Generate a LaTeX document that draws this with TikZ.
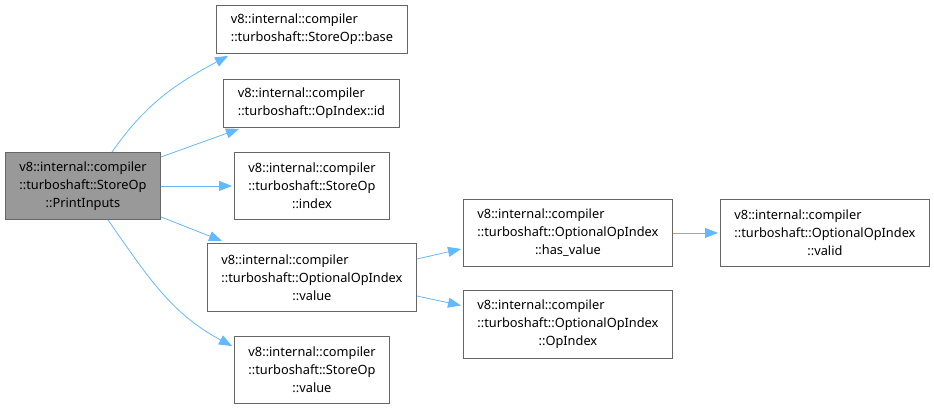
\documentclass[tikz,border=0pt]{standalone}
\usepackage{xcolor}
\usepackage{calc}
\usepackage{fontspec}
\setmainfont{Noto Sans}
\usetikzlibrary{arrows.meta}

\definecolor{callblue}{HTML}{63B8FF}
% first line left-aligned with the second one
\newcommand{\leftpair}[2]{\makebox[\widthof{#2}][l]{#1}\\#2}

\begin{document}
\begin{tikzpicture}[
    x=1pt, y=1pt,
    fn/.style={rectangle, draw=black!60, fill=white, line width=0.9pt, align=center, anchor=north west, inner sep=0pt, font=\fontsize{12.8}{18}\selectfont},
    current/.style={fn, fill=black!40},
    call/.style={-{Triangle[length=13pt, width=10pt]}, draw=callblue, line width=0.8pt}
]
\useasboundingbox (0,0) rectangle (934,-409);

\node[current, minimum width=155pt, minimum height=67pt] (printinputs) at (5,-152) {\leftpair{v8::internal::compiler}{::turboshaft::StoreOp}\\::PrintInputs};
\node[fn, minimum width=191pt, minimum height=48pt] (base) at (216,-5) {\leftpair{v8::internal::compiler}{::turboshaft::StoreOp::base}};
\node[fn, minimum width=176pt, minimum height=48pt] (opid) at (223,-79) {\leftpair{v8::internal::compiler}{::turboshaft::OpIndex::id}};
\node[fn, minimum width=155pt, minimum height=67pt] (index) at (234,-152) {\leftpair{v8::internal::compiler}{::turboshaft::StoreOp}\\::index};
\node[fn, minimum width=209pt, minimum height=68pt] (optvalue) at (207,-243) {\leftpair{v8::internal::compiler}{::turboshaft::OptionalOpIndex}\\::value};
\node[fn, minimum width=155pt, minimum height=67pt] (storevalue) at (234,-336) {\leftpair{v8::internal::compiler}{::turboshaft::StoreOp}\\::value};
\node[fn, minimum width=209pt, minimum height=67pt] (hasvalue) at (463,-199) {\leftpair{v8::internal::compiler}{::turboshaft::OptionalOpIndex}\\::has\_value};
\node[fn, minimum width=209pt, minimum height=68pt] (opindex) at (463,-290) {\leftpair{v8::internal::compiler}{::turboshaft::OptionalOpIndex}\\::OpIndex};
\node[fn, minimum width=209pt, minimum height=67pt] (valid) at (720,-199) {\leftpair{v8::internal::compiler}{::turboshaft::OptionalOpIndex}\\::valid};

% Calls from PrintInputs
\draw[call] ([xshift=29pt]printinputs.north) to[out=55, in=208] ([xshift=12pt, yshift=-2pt]base.south west);
\draw[call] ([yshift=-5pt]printinputs.north east) -- ([xshift=16pt, yshift=-1pt]opid.south west);
\draw[call] (printinputs.east) -- ([xshift=-2pt]index.west);
\draw[call] ([yshift=3pt]printinputs.south east) -- ([xshift=15pt, yshift=2pt]optvalue.north west);
\draw[call] ([xshift=25pt]printinputs.south) to[out=-55, in=152] ([xshift=-2pt, yshift=-10pt]storevalue.north west);

% Calls from OptionalOpIndex::value
\draw[call] ([yshift=-16pt]optvalue.north east) -- ([xshift=-2pt, yshift=-16pt]hasvalue.west);
\draw[call] ([yshift=-53pt]optvalue.north east) -- ([xshift=-2pt, yshift=19pt]opindex.west);
\draw[call] (hasvalue.east) -- ([xshift=-2pt]valid.west);

\end{tikzpicture}
\end{document}
